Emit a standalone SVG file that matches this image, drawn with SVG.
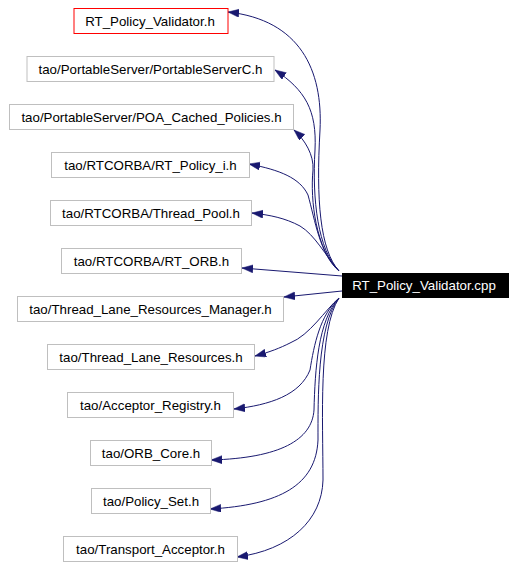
<svg xmlns="http://www.w3.org/2000/svg" width="516" height="567" viewBox="0 0 516 567">
<style>
.n rect{fill:#ffffff;stroke:#bfbfbf;stroke-width:1}
.n text{font-family:"Liberation Sans",Arial,sans-serif;font-size:13.3px;fill:#000000;text-anchor:middle}
#n0 rect{stroke:#ff0000}
#main rect{fill:#000000;stroke:#000000}
#main text{fill:#ffffff}
.e path{fill:none;stroke:#191970;stroke-width:1;marker-end:url(#ah)}
</style>
<defs>
<marker id="ah" markerUnits="userSpaceOnUse" markerWidth="12" markerHeight="9" refX="11" refY="4" orient="auto" viewBox="0 0 12 9">
<path d="M0,0 L11,4 L0,8 z" fill="#191970" stroke="#191970" stroke-width="0.5"/>
</marker>
</defs>
<rect width="516" height="567" fill="#ffffff"/>
<g id="edges" class="e">
<path d="M339,271 C320,250 316,200 320,130 C323,70 300,20 228,12"/>
<path d="M339,271 C318,250 312,200 315,150 C317,110 305,90 275,70"/>
<path d="M339,271 C316,250 310,200 313,170 C314,155 305,140 294,130"/>
<path d="M339,271 C320,255 315,220 308,195 C300,178 280,170 249,164"/>
<path d="M339,271 C325,255 315,235 300,226 C285,218 270,215 252,213"/>
<path d="M342,276 L242,268"/>
<path d="M342,291 L284,297"/>
<path d="M339,298 C325,310 310,335 290,343 C280,348 270,352 255,356"/>
<path d="M339,298 C320,315 314,345 310,370 C300,395 270,405 234,409"/>
<path d="M339,298 C318,320 315,370 314,410 C312,440 280,458 211,460"/>
<path d="M339,298 C317,325 318,400 318,440 C316,485 280,505 210,509"/>
<path d="M339,298 C318,330 323,420 323,480 C322,520 290,550 237,557"/>
</g>
<g id="n0" class="n"><rect x="74" y="8.5" width="154" height="25"/><text x="150" y="25.5">RT_Policy_Validator.h</text></g>
<g id="n1" class="n"><rect x="27" y="56.5" width="247" height="25"/><text x="150.5" y="73.5">tao/PortableServer/PortableServerC.h</text></g>
<g id="n2" class="n"><rect x="9.5" y="104.5" width="284" height="25"/><text x="151.5" y="121.5">tao/PortableServer/POA_Cached_Policies.h</text></g>
<g id="n3" class="n"><rect x="51.5" y="152.5" width="198" height="25"/><text x="150.5" y="169.5">tao/RTCORBA/RT_Policy_i.h</text></g>
<g id="n4" class="n"><rect x="50.5" y="200.5" width="201" height="25"/><text x="151" y="217.5">tao/RTCORBA/Thread_Pool.h</text></g>
<g id="n5" class="n"><rect x="61.5" y="248.5" width="180" height="25"/><text x="151.5" y="265.5">tao/RTCORBA/RT_ORB.h</text></g>
<g id="n6" class="n"><rect x="17.5" y="296.5" width="266" height="25"/><text x="150.5" y="313.5">tao/Thread_Lane_Resources_Manager.h</text></g>
<g id="n7" class="n"><rect x="47.5" y="344.5" width="207" height="25"/><text x="151" y="361.5">tao/Thread_Lane_Resources.h</text></g>
<g id="n8" class="n"><rect x="67.5" y="392.5" width="166" height="25"/><text x="150.5" y="409.5">tao/Acceptor_Registry.h</text></g>
<g id="n9" class="n"><rect x="90.5" y="440.5" width="121" height="25"/><text x="151" y="457.5">tao/ORB_Core.h</text></g>
<g id="n10" class="n"><rect x="91.5" y="488.5" width="119" height="25"/><text x="151" y="505.5">tao/Policy_Set.h</text></g>
<g id="n11" class="n"><rect x="63.5" y="536.5" width="174" height="25"/><text x="150.5" y="553.5">tao/Transport_Acceptor.h</text></g>
<g id="main" class="n"><rect x="342.5" y="273.5" width="166" height="24"/><text x="424" y="290">RT_Policy_Validator.cpp</text></g>
</svg>
